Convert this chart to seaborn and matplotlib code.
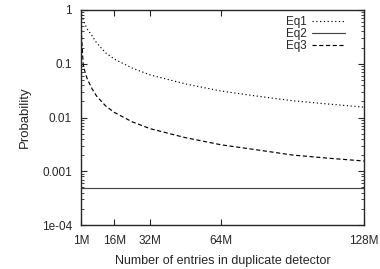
import numpy as np
import pandas as pd
import matplotlib
matplotlib.use("Agg")
import matplotlib.pyplot as plt
import matplotlib.ticker as mticker
import seaborn as sns

# values (x in millions of entries)
entries = [1, 1.3, 2, 3, 4, 6, 8, 12, 16, 24, 32, 48, 64, 80, 96, 112, 128]
eq1 = [0.95, 0.85, 0.66, 0.52, 0.43, 0.33, 0.245, 0.16, 0.122, 0.083, 0.062,
       0.042, 0.031, 0.025, 0.0205, 0.0178, 0.0156]
eq2 = [0.00048] * len(entries)
eq3 = [0.8, 0.3, 0.095, 0.065, 0.05, 0.034, 0.025, 0.0165, 0.0124, 0.0083,
       0.0062, 0.0042, 0.0031, 0.0025, 0.002, 0.00175, 0.00155]

xticks = [1, 16, 32, 64, 128]
xtick_labels = ["1M", "16M", "32M", "64M", "128M"]
yticks = [1e-4, 1e-3, 1e-2, 1e-1, 1]
ytick_labels = ["1e-04", "0.001", "0.01", "0.1", "1"]

data = pd.DataFrame({
    "Entries": entries * 3,
    "Probability": eq1 + eq2 + eq3,
    "Series": ["Eq1"] * len(entries) + ["Eq2"] * len(entries) + ["Eq3"] * len(entries),
})

sns.set_style("ticks")
plt.rcParams["font.family"] = ["Liberation Sans", "DejaVu Sans"]

fig = plt.figure(figsize=(3.8, 2.69), dpi=100)
ax = fig.add_axes([81 / 380, 1 - 225 / 269, (364 - 81) / 380, (225 - 10) / 269])

styles = {"Eq1": (0, (1, 2.2)), "Eq2": "-", "Eq3": (0, (3.5, 2.2))}
colors = {"Eq1": "black", "Eq2": "#444444", "Eq3": "black"}
for name in ["Eq1", "Eq2", "Eq3"]:
    sns.lineplot(
        data=data[data["Series"] == name],
        x="Entries", y="Probability",
        ax=ax, color=colors[name], linewidth=0.85,
        linestyle=styles[name], label=name,
    )

ax.set_yscale("log")
ax.set_xlim(1, 128)
ax.set_ylim(1e-4, 1)
ax.set_xticks(xticks)
ax.set_xticklabels(xtick_labels)
ax.set_yticks(yticks)
ax.set_yticklabels(ytick_labels)
ax.yaxis.set_minor_locator(mticker.LogLocator(base=10, subs=np.arange(2, 10)))
ax.yaxis.set_minor_formatter(mticker.NullFormatter())

ax.tick_params(axis="both", which="major", direction="in", length=4,
               width=0.8, top=True, right=True, labelsize=8.5)
ax.tick_params(axis="y", which="major", pad=6.5)
ax.tick_params(axis="x", which="major", pad=7)
ax.tick_params(axis="y", which="minor", direction="in", length=2,
               width=0.6, right=True)
for s in ax.spines.values():
    s.set_linewidth(1.0)
    s.set_visible(True)

ax.set_xlabel("Number of entries in duplicate detector", fontsize=9, labelpad=6)
ax.set_ylabel("Probability", fontsize=9.5, labelpad=8)

leg = ax.legend(loc="upper right", frameon=False, fontsize=8.4,
                markerfirst=False, handlelength=2.8, handletextpad=0.5,
                labelspacing=-0.02, borderaxespad=0.5,
                bbox_to_anchor=(0.97, 1.02))
for t in leg.get_texts():
    t.set_ha("right")

fig.savefig("out.png", dpi=100)
